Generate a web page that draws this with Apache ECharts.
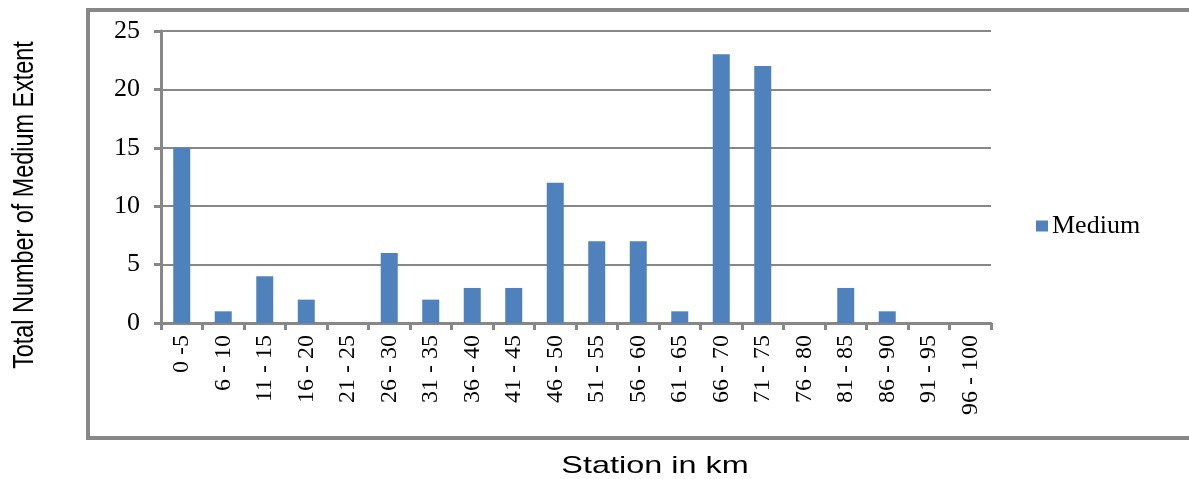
<!DOCTYPE html>
<html>
<head>
<meta charset="utf-8">
<script src="https://cdn.jsdelivr.net/npm/echarts@6/dist/echarts.min.js"></script>
<style>
  html, body { margin: 0; padding: 0; background: #fff; }
  #chart { width: 1189px; height: 479px; }
</style>
</head>
<body>
<div id="chart"></div>
<script>
// Station ranges along the route (km)
const stations = ['0 -5', '6 - 10', '11 - 15', '16 - 20', '21 - 25', '26 - 30', '31 - 35',
  '36 - 40', '41 - 45', '46 - 50', '51 - 55', '56 - 60', '61 - 65', '66 - 70', '71 - 75',
  '76 - 80', '81 - 85', '86 - 90', '91 - 95', '96 - 100'];
// Count of medium-extent occurrences per station range
const medium = [15, 1, 4, 2, 0, 6, 2, 3, 3, 12, 7, 7, 1, 23, 22, 0, 3, 1, 0, 0];
const yTicks = [0, 5, 10, 15, 20, 25];

const gray = '#878787';
const serif = '"Liberation Serif", "Times New Roman", serif';
const sans = '"Liberation Sans", Arial, sans-serif';

const chart = echarts.init(document.getElementById('chart'));
chart.setOption({
  animation: false,
  backgroundColor: '#fff',
  grid: { left: 161, right: 198, top: 31, bottom: 156, containLabel: false },
  legend: {
    data: ['Medium'],
    left: 1031, top: 208,
    icon: 'rect', itemWidth: 12, itemHeight: 11, itemGap: 6,
    textStyle: { fontFamily: serif, fontSize: 26, color: '#000', padding: [0, 0, 0, -1] }
  },
  xAxis: {
    type: 'category',
    data: stations,
    axisLine: { lineStyle: { color: gray, width: 3 } },
    axisTick: { show: true, length: 7, lineStyle: { color: gray, width: 3 } },
    axisLabel: {
      rotate: 90, interval: 0, margin: 12,
      fontFamily: serif, fontSize: 24, color: '#000'
    },
    splitLine: { show: false }
  },
  yAxis: {
    type: 'value',
    min: yTicks[0], max: yTicks[yTicks.length - 1], interval: 5,
    axisLine: { show: true, lineStyle: { color: gray, width: 3 } },
    axisTick: { show: true, length: 7, lineStyle: { color: gray, width: 3 } },
    axisLabel: { margin: 21, fontFamily: serif, fontSize: 26, color: '#000' },
    splitLine: { lineStyle: { color: gray, width: 2 } }
  },
  series: [{
    name: 'Medium',
    type: 'bar',
    data: medium,
    barWidth: 17,
    itemStyle: { color: '#4F81BD' }
  }],
  graphic: [
    {
      type: 'rect', z: -1, silent: true,
      shape: { x: 88, y: 10, width: 1120, height: 428 },
      style: { fill: 'none', stroke: gray, lineWidth: 4 }
    },
    {
      type: 'text', silent: true,
      x: 25, y: 205, rotation: Math.PI / 2, scaleX: 0.78, scaleY: 1.0,
      style: {
        text: 'Total Number of Medium Extent',
        fontFamily: sans, fontSize: 30, fill: '#000',
        align: 'center', verticalAlign: 'middle'
      }
    },
    {
      type: 'text', silent: true,
      x: 655, y: 466, scaleX: 1.35, scaleY: 1.0,
      style: {
        text: 'Station in km',
        fontFamily: sans, fontSize: 24, fill: '#000',
        align: 'center', verticalAlign: 'middle'
      }
    }
  ]
});
</script>
</body>
</html>
